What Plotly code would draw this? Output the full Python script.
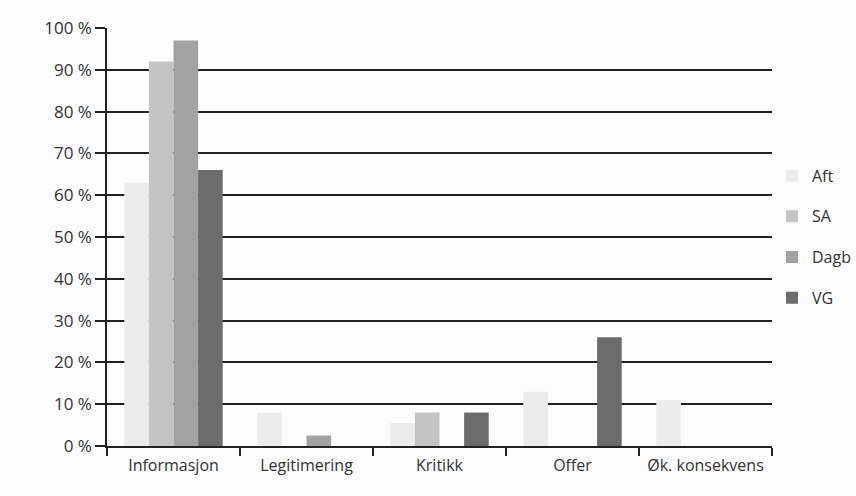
import plotly.graph_objects as go

categories = ["Informasjon", "Legitimering", "Kritikk", "Offer", "Øk. konsekvens"]
series_names = ["Aft", "SA", "Dagb", "VG"]
aft = [63, 8, 5.5, 13, 11]
sa = [92, 0, 8, 0, 0]
dagb = [97, 2.5, 0, 0, 0]
vg = [66, 0, 8, 26, 0]
colors = ["#ececec", "#c4c4c4", "#a2a2a2", "#6c6c6c"]

fig = go.Figure()
for i, (name, vals) in enumerate(zip(series_names, [aft, sa, dagb, vg])):
    fig.add_trace(go.Bar(x=categories, y=vals, name=name, marker_color=colors[i],
                         marker_line_width=0, legendgroup=name))

font = dict(family="Open Sans, Liberation Sans, sans-serif", size=17, color="#333333")
fig.update_layout(
    width=856, height=496,
    margin=dict(l=107, r=84, t=28, b=50, autoexpand=False),
    paper_bgcolor="#fcfcfc", plot_bgcolor="#fcfcfc",
    font=font,
    barmode="group", bargap=0.26, bargroupgap=0,
    showlegend=True,
    legend=dict(x=1.0, y=0.5, yanchor="middle", xanchor="left",
                tracegroupgap=17, font=dict(size=16, color="#333333"),
                bgcolor="rgba(0,0,0,0)"),
    xaxis=dict(showline=True, linecolor="#222222", linewidth=1.5,
               ticks="outside", tickson="boundaries", ticklen=8, tickcolor="#222222",
               tickwidth=1.5, showgrid=False, ticklabelstandoff=4, tickangle=0,
               tickfont=dict(size=16)),
    yaxis=dict(range=[0, 100], dtick=10, ticksuffix=" %", showline=True,
               linecolor="#222222", linewidth=1.5, ticks="outside", ticklen=10,
               tickcolor="#222222", tickwidth=1.5, showgrid=True,
               gridcolor="#222222", gridwidth=1.5, zeroline=False),
)
fig.write_html("out.html")
